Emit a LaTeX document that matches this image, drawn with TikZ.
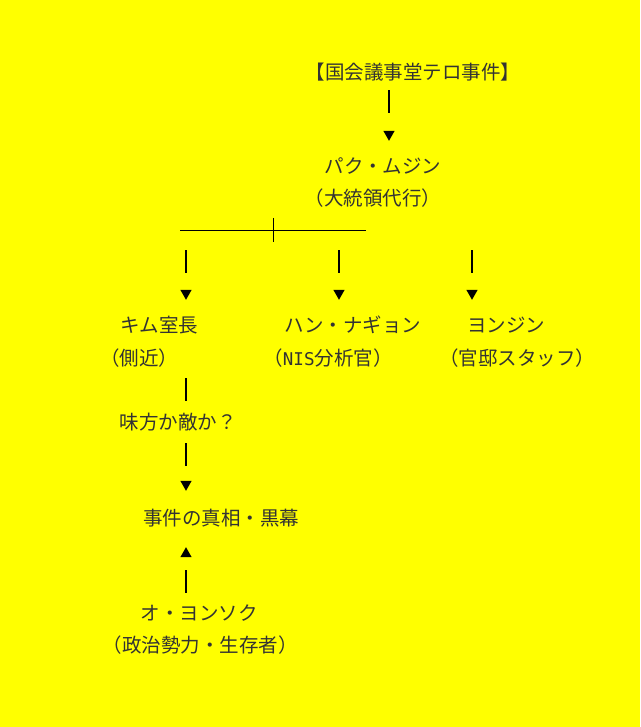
\documentclass[tikz,border=0pt]{standalone}
\usepackage{fontspec}
\newfontfamily\jpfont{Noto Sans CJK JP}
\newfontfamily\nisfont{DejaVu Sans Mono}[Scale=0.9]
\usetikzlibrary{arrows.meta}
\definecolor{paper}{RGB}{255,255,0}

\begin{document}
\begin{tikzpicture}[x=1pt,y=-1pt,>={Triangle[width=11pt,length=10pt]},
    lbl/.style={font=\jpfont\fontsize{19.5}{20}\selectfont,text=black!80,
      inner sep=0pt,text height=17pt,text depth=2pt},
    bar/.style={line width=1.3pt},
    link/.style={bar,->,dash pattern=on 23pt off 200pt}]
      \fill[paper] (0,0) rectangle (640,727);
      \useasboundingbox (0,0) rectangle (640,727);
      \node[lbl] (title) at (413,72) {【国会議事堂テロ事件】};
      \node[lbl] (park) at (383,166) {パク・ムジン};
      \node[lbl] (parkrole) at (373,198) {（大統領代行）};
      \node[lbl] (kim) at (159,325) {キム室長};
      \node[lbl] (kimrole) at (139,358) {（側近）};
      \node[lbl] (han) at (353,325) {ハン・ナギョン};
      \node[lbl] (hanrole) at (328,358) {（{\nisfont NIS}分析官）};
      \node[lbl] (yon) at (506,325) {ヨンジン};
      \node[lbl] (yonrole) at (517,358) {（官邸スタッフ）};
      \node[lbl] (ask) at (178,422) {味方か敵か？};
      \node[lbl] (truth) at (221,518) {事件の真相・黒幕};
      \node[lbl] (oh) at (199,613) {オ・ヨンソク};
      \node[lbl] (ohrole) at (200,645) {（政治勢力・生存者）};
      % split line
      \coordinate (split) at (273,230);
      \coordinate (kimtop) at (186,230);
      \coordinate (hantop) at (339,230);
      \coordinate (yontop) at (472,230);
      \draw[line width=0.9pt] ([xshift=-93pt]split) -- ([xshift=93pt]split);
      \draw[line width=0.9pt] ([yshift=12pt]split) -- ([yshift=-12pt]split);
      \draw[link,shorten <=8.5pt,shorten >=15.5pt] ([xshift=-24pt]title.south) -- ([xshift=-24pt]title.south |- park.north);
      \draw[link,shorten <=20pt,shorten >=15.5pt] (kimtop) -- (kimtop |- kim.north);
      \draw[link,shorten <=20pt,shorten >=15.5pt] (hantop) -- (hantop |- han.north);
      \draw[link,shorten <=20pt,shorten >=15.5pt] (yontop) -- (yontop |- yon.north);
      \draw[bar,shorten <=10.5pt,shorten >=11.5pt] ([xshift=47pt]kimrole.south) -- ([xshift=47pt]kimrole.south |- ask.north);
      \draw[link,shorten <=11.5pt,shorten >=17.5pt] ([xshift=8pt]ask.south) -- ([xshift=8pt]ask.south |- truth.north);
      \draw[link,shorten <=10.5pt,shorten >=19.5pt] ([xshift=-13pt]oh.north) -- ([xshift=-13pt]oh.north |- truth.south);
\end{tikzpicture}
\end{document}
